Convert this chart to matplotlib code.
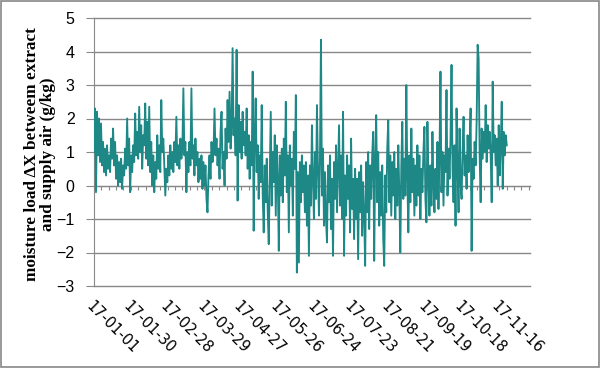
import numpy as np
import pandas as pd
import matplotlib
matplotlib.use("Agg")
import matplotlib.pyplot as plt
from matplotlib.patches import Rectangle

# moisture load dX (g/kg), Jan 2017 -> late Nov 2017
dx_vals = [
    1.0, 2.3, -0.2, 2.2, 0.9, 2.0, 0.7, 1.85, 0.6, 1.3,
    0.4, 1.1, 0.3, 1.2, 0.5, 0.9, 0.4, 1.4, 0.8, 1.7,
    0.6, 1.3, 0.2, 0.9, 0.0, 0.7, 0.1, 0.8, -0.1, 0.6,
    0.3, 1.1, 0.5, 2.0, 0.6, 1.4, -0.2, 0.9, 0.4, 1.2,
    0.7, 2.15, 0.9, 1.6, 0.8, 2.35, 1.0, 1.8, 0.5, 1.5,
    1.2, 2.45, 0.8, 1.9, 0.6, 2.35, 0.4, 1.3, 0.0, 0.9,
    -0.2, 0.7, 0.2, 1.5, 0.5, 1.2, 0.4, 2.55, 1.0, 1.4,
    0.6, -0.3, 0.5, 0.1, 0.9, 0.3, 1.2, 0.5, 1.0, 0.4,
    1.3, 0.7, 2.05, 0.6, 1.2, 0.5, 1.4, 0.8, 1.1, 2.9,
    0.9, 1.3, -0.2, 1.0, 0.4, 1.3, 0.6, 2.9, 0.8, 1.2,
    0.3, 1.4, 0.6, 1.0, 0.1, 0.8, 0.2, 0.9, -0.1, 0.7,
    0.0, 0.6, -0.4, -0.8, 0.3, 0.9, 0.2, 1.3, 0.7, 1.0,
    2.3, 0.9, 1.4, 0.6, 1.1, 0.2, 1.6, 2.2, 0.5, 1.0,
    0.0, 1.7, 0.8, 2.55, 1.3, 2.8, 1.1, 1.7, 4.1, 1.5,
    2.0, 0.9, 4.05, -0.45, 2.4, 1.0, 1.9, 0.8, 2.2, 1.2,
    1.6, 0.9, 2.3, 0.5, 1.5, 0.2, 1.3, 0.6, 3.4, -1.35,
    1.5, 2.6, 0.4, 1.2, -0.4, 0.9, 0.1, 2.4, -0.3, -1.4,
    0.6, -0.5, 0.8, -0.8, -1.75, 0.3, 2.2, -0.6, 1.0, 0.1,
    1.5, -0.9, 1.2, 0.2, -1.95, 0.9, -0.3, 1.1, -0.5, 1.4,
    0.3, 2.5, -0.2, 0.9, -1.4, 1.2, 0.0, 0.8, -0.9, 1.6,
    0.5, 2.7, -2.6, 0.4, -2.3, 0.7, -0.5, 0.9, -0.2, 0.6,
    -0.8, 0.7, -1.2, 0.3, -2.1, 0.6, -0.6, 1.8, 0.2, -1.0,
    1.0, -0.4, 2.4, 0.5, -0.9, 0.8, 4.35, -0.3, 1.1, -1.2,
    0.4, -1.0, -1.7, 0.6, -0.5, 0.9, -1.3, 0.2, -2.1, 0.7,
    -0.4, 1.2, -0.8, 0.5, 1.8, -0.6, 0.9, -1.0, 2.2, -2.1,
    0.3, -0.9, 0.9, -0.4, 0.6, -1.4, 1.4, -0.7, 0.2, -1.6,
    0.5, -1.0, 0.2, -2.2, 0.4, -0.8, 0.6, -1.5, 0.1, -0.9,
    -2.4, 0.7, -0.8, 1.0, -1.3, 0.6, -0.4, 0.9, 1.6, -2.25,
    0.8, 2.1, -0.5, 1.0, -1.2, 0.4, -0.9, 0.6, -1.6, -2.4,
    0.3, -0.8, 1.1, 1.95, -0.5, 0.9, -0.9, 0.7, -0.3, 1.0,
    -1.0, 0.5, -0.6, 1.2, -0.2, -2.0, 0.6, 1.9, -0.4, 0.8,
    -0.3, 3.0, 0.2, -1.4, 0.9, -0.5, 1.7, -0.2, 0.8, -0.9,
    0.6, -0.6, 1.2, -0.3, 0.9, -1.0, 0.5, -0.2, 1.0, 1.75,
    -0.4, -1.1, 1.9, 0.2, -0.9, 0.6, -0.6, 1.6, 0.0, -0.8,
    0.5, -0.4, 1.3, -0.7, 0.8, 3.4, -0.2, 1.0, -0.6, 0.9,
    0.4, 2.85, -0.3, 1.1, 0.2, 1.4, 3.6, 0.5, -0.5, 1.2,
    -1.2, 2.3, 0.6, -0.8, 1.7, 0.1, -0.4, 1.0, 2.05, 0.3,
    0.9, -0.1, 1.5, 0.4, 1.2, 2.3, -1.95, 0.8, 0.2, 1.3,
    0.6, 1.9, 4.2, 3.8, 0.9, -0.5, 1.7, 0.8, 1.6, 1.0,
    2.4, 0.7, 1.8, 1.1, 1.6, 0.9, -0.5, 3.1, 1.0, 1.5,
    0.6, 1.4, 0.0, 1.8, 0.3, 1.2, 2.5, -0.1, 1.6, 0.9,
    1.5, 1.2,
]
start_date = "2017-01-01"
end_date = "2017-11-22"
label_step_days = 29
n_labels = 12
axis_days = 343.3

times = pd.date_range(start_date, end_date, periods=len(dx_vals))
t0 = pd.Timestamp(start_date)
label_dates = [t0 + pd.Timedelta(days=label_step_days * k) for k in range(n_labels)]
tick_dates = pd.date_range(t0, t0 + pd.Timedelta(days=axis_days), freq=pd.Timedelta(days=label_step_days / 5))

grey = "#888888"
teal = "#1d8886"

fig = plt.figure(figsize=(6.01, 3.68), dpi=100)
ax = fig.add_axes([94 / 601, 1 - 286 / 368, 436 / 601, 268 / 368])

ax.plot(times, dx_vals, color=teal, lw=1.35, zorder=3)

ax.set_ylim(-3, 5)
ax.set_xlim(t0, t0 + pd.Timedelta(days=axis_days))
ax.set_yticks(range(-3, 6))
ax.yaxis.grid(True, color=grey, lw=1.0)
for gl in ax.get_ygridlines():
    gl.set_clip_on(False)
ax.set_axisbelow(True)

for s in ["top", "right"]:
    ax.spines[s].set_visible(False)
ax.spines["left"].set_color(grey)
ax.spines["bottom"].set_color(grey)
ax.spines["bottom"].set_position(("data", 0))
ax.spines["bottom"].set_zorder(1)

ax.set_xticks(tick_dates)
ax.tick_params(axis="x", direction="out", length=3, color=grey, labelbottom=False)
ax.tick_params(axis="y", direction="out", length=6, color=grey, pad=8,
               labelsize=11.5, labelcolor="black")
for lab in ax.get_yticklabels():
    lab.set_family("Liberation Sans")

# date labels along the bottom
for d in label_dates:
    ax.text(d, -0.045, d.strftime("%y-%m-%d"), transform=ax.get_xaxis_transform(),
            rotation=-45, rotation_mode="anchor", ha="left", va="top",
            fontsize=10.5, family="DejaVu Sans")

fig.text(40 / 601, 1 - 154 / 368, "moisture load \u0394X betweem extract\nand supply air (g/kg)",
         rotation=90, ha="center", va="center", fontsize=12.4, fontweight="bold",
         family="Liberation Serif", linespacing=1.0)

fig.add_artist(Rectangle((0.002, 0.003), 0.995, 0.993, transform=fig.transFigure,
                         fill=False, edgecolor=grey, lw=1.2))

fig.savefig("out.png", dpi=100)
